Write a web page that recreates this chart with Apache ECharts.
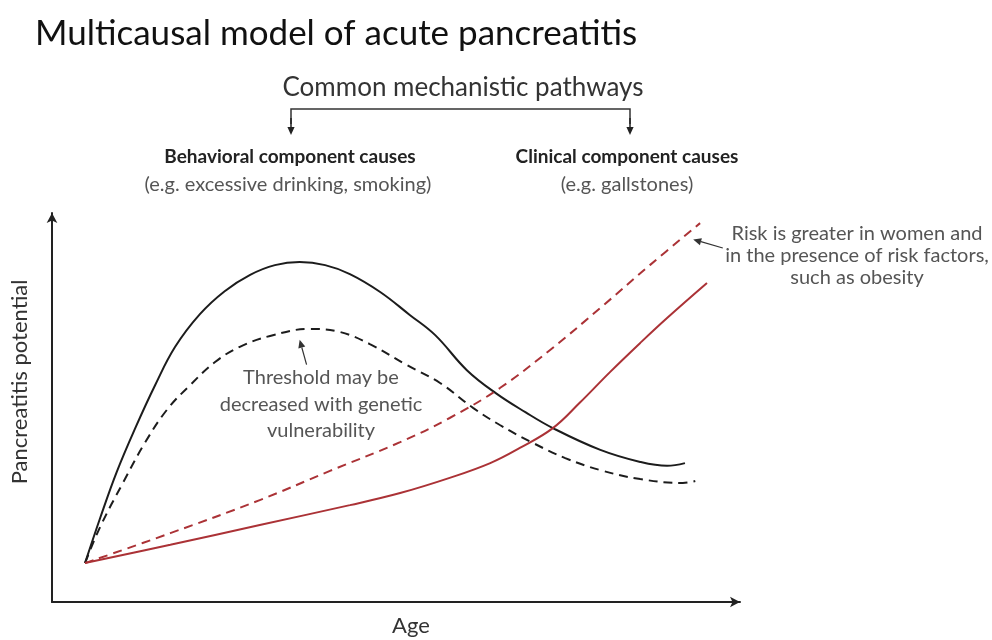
<!DOCTYPE html>
<html><head><meta charset="utf-8">
<script src="https://cdn.jsdelivr.net/npm/echarts@6/dist/echarts.min.js"></script>
<style>html,body{margin:0;padding:0;background:#fff}#c{width:992px;height:640px}</style>
</head><body><div id="c"></div>
<script>
// Conceptual curves: age (0-100) vs pancreatitis potential (0-100)
const behavioralAge       = [4.8, 7.0, 9.4, 12.1, 15.0, 17.9, 21.5, 25.1, 28.8, 32.4, 36.0, 39.7, 43.3, 47.7, 52.0, 55.7, 60.3, 64.5, 68.8, 72.8, 79.7, 85.5, 89.4, 92.0];
const behavioralPotential = [10.0, 21.6, 33.4, 44.7, 55.8, 65.6, 74.0, 79.9, 84.1, 86.6, 87.4, 86.6, 84.3, 79.7, 73.8, 68.6, 59.6, 53.7, 48.8, 44.7, 39.1, 36.0, 35.0, 35.7];

const geneticAge          = [4.8, 7.0, 10.3, 13.5, 16.7, 20.1, 23.7, 27.3, 31.7, 37.5, 41.9, 46.2, 51.6, 56.4, 61.2, 65.1, 69.9, 74.6, 79.7, 85.5, 91.7, 93.5];
const geneticPotential    = [10.0, 19.3, 30.6, 40.9, 49.4, 55.8, 61.7, 65.6, 68.4, 70.2, 69.4, 66.3, 60.9, 56.3, 49.9, 45.5, 40.9, 37.0, 33.9, 31.6, 30.6, 31.1];

const clinicalAge         = [4.8, 17.2, 30.2, 43.3, 50.6, 57.8, 63.7, 68.0, 72.8, 76.7, 81.1, 85.5, 89.4, 95.2];
const clinicalPotential   = [10.0, 14.7, 19.8, 24.9, 28.0, 31.9, 35.7, 39.6, 44.7, 51.2, 59.1, 66.6, 73.0, 82.0];

const riskAge             = [4.8, 17.2, 30.2, 40.4, 50.6, 57.8, 65.1, 72.4, 79.7, 86.9, 94.2];
const riskPotential       = [10.0, 17.7, 26.2, 33.7, 41.1, 47.3, 55.0, 64.8, 75.6, 86.6, 97.4];

const titleText = 'Multicausal model of acute pancreatitis';
const xName = 'Age';
const yName = 'Pancreatitis potential';

function zip(a, b) { return a.map((v, i) => [v, b[i]]); }

const FONT = 'Lato, "Open Sans", sans-serif';
const BLACK = '#1c1c1c';
const RED = '#ab3236';

const chart = echarts.init(document.getElementById('c'), null, {renderer: 'canvas'});

function lineSeries(name, data, color, type) {
  return {
    name, type: 'line', data, smooth: 0.4,
    showSymbol: false, symbol: 'none', silent: true,
    lineStyle: {color, width: 2, type}
  };
}

const axisCommon = {
  type: 'value', min: 0, max: 100,
  axisTick: {show: false}, axisLabel: {show: false}, splitLine: {show: false},
  axisLine: {show: true, lineStyle: {color: '#222', width: 2}, symbol: ['none', 'arrow'], symbolSize: [8, 10]}
};

chart.setOption({
  animation: false,
  backgroundColor: '#fff',
  grid: {left: 52, top: 213, width: 688, height: 389},
  xAxis: Object.assign({}, axisCommon),
  yAxis: Object.assign({}, axisCommon),
  series: [
    lineSeries('Behavioral', zip(behavioralAge, behavioralPotential), BLACK, 'solid'),
    lineSeries('Genetic', zip(geneticAge, geneticPotential), BLACK, [9, 6]),
    lineSeries('Clinical', zip(clinicalAge, clinicalPotential), RED, 'solid'),
    lineSeries('Risk', zip(riskAge, riskPotential), RED, [9, 6])
  ]
});

function txt(text, x, y, size, color, weight) {
  return {type: 'text', x, y, silent: true,
    style: {text, fontFamily: FONT, fontSize: size, fill: color, fontWeight: weight || 'normal',
      textAlign: 'center', textVerticalAlign: 'middle'}};
}
function arrow(x1, y1, x2, y2, color, w, head) {
  const ang = Math.atan2(y2 - y1, x2 - x1);
  const hl = head || 8, hw = hl * 0.45;
  const bx = x2 - hl * Math.cos(ang), by = y2 - hl * Math.sin(ang);
  return [
    {type: 'line', silent: true, shape: {x1, y1, x2: bx, y2: by}, style: {stroke: color, lineWidth: w}},
    {type: 'polygon', silent: true, shape: {points: [[x2, y2],
      [bx + hw * Math.sin(ang), by - hw * Math.cos(ang)],
      [bx - hw * Math.sin(ang), by + hw * Math.cos(ang)]]}, style: {fill: color}}
  ];
}

const p1h = chart.convertToPixel({gridIndex: 0}, [36.0, 67.4]);
const p1t = chart.convertToPixel({gridIndex: 0}, [37.0, 61.0]);
const p2h = chart.convertToPixel({gridIndex: 0}, [93.2, 93.2]);
const p2t = chart.convertToPixel({gridIndex: 0}, [97.5, 91.0]);

const graphics = [
  {type: 'text', x: 35, y: 34, silent: true,
    style: {text: titleText, fontFamily: FONT, fontSize: 35, fill: '#111', textAlign: 'left', textVerticalAlign: 'middle'}},
  txt('Common mechanistic pathways', 463, 88, 26, '#333'),
  {type: 'polyline', silent: true, shape: {points: [[291, 124], [291, 109], [630, 109], [630, 124]]},
    style: {stroke: '#333', lineWidth: 1.5, fill: null}},
  ...arrow(291, 118, 291, 135, '#222', 1.5, 8),
  ...arrow(630, 118, 630, 135, '#222', 1.5, 8),
  txt('Behavioral component causes', 290, 157, 19, '#222', 'bold'),
  txt('(e.g. excessive drinking, smoking)', 288, 185, 20, '#555'),
  txt('Clinical component causes', 627, 157, 19, '#222', 'bold'),
  txt('(e.g. gallstones)', 627, 185, 20, '#555'),
  txt('Threshold may be', 321, 378, 20, '#555'),
  txt('decreased with genetic', 321, 405, 20, '#555'),
  txt('vulnerability', 321, 431, 20, '#555'),
  ...arrow(p1t[0], p1t[1], p1h[0], p1h[1], '#333', 1.2, 8),
  txt('Risk is greater in women and', 857, 234, 20, '#555'),
  txt('in the presence of risk factors,', 857, 256, 20, '#555'),
  txt('such as obesity', 857, 278, 20, '#555'),
  ...arrow(p2t[0], p2t[1], p2h[0], p2h[1], '#333', 1.2, 8),
  txt(xName, 411, 626, 22, '#333'),
  {type: 'text', x: 20, y: 382, rotation: Math.PI / 2, silent: true,
    style: {text: yName, fontFamily: FONT, fontSize: 22, fill: '#333', textAlign: 'center', textVerticalAlign: 'middle'}}
];
chart.setOption({graphic: {elements: graphics}});
</script>
</body></html>
